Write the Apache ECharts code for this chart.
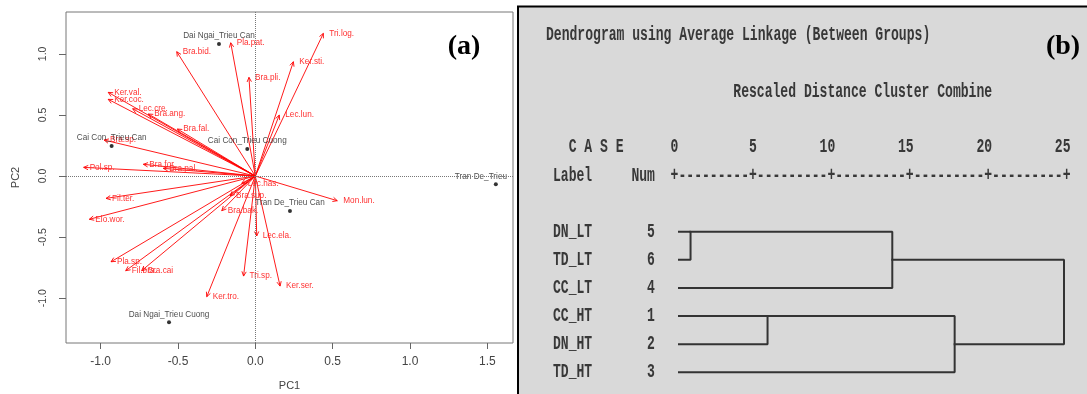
<!DOCTYPE html>
<html>
<head>
<meta charset="utf-8">
<script src="https://cdn.jsdelivr.net/npm/echarts@6/dist/echarts.min.js"></script>
<style>
  html, body { margin: 0; padding: 0; background: #fff; }
  #chart { width: 1087px; height: 394px; }
</style>
</head>
<body>
<div id="chart"></div>
<script>
// (a) PCA biplot - species loadings (arrows)
const speciesNames = ['Bra.bid.', 'Pla.pat.', 'Bra.pli.', 'Tri.log.', 'Ker.sti.', 'Lec.lun.',
  'Ker.val.', 'Ker.coc.', 'Lec.cre.', 'Bra.ang.', 'Bra.fal.', 'Bra.sp.', 'Pol.sp.', 'Bra.for.',
  'Bra.pal.', 'Fil.ter.', 'Elo.wor.', 'Pla.sp.', 'Fil.bra.', 'Bra.cai', 'Ker.tro.', 'Tri.sp.',
  'Lec.ela.', 'Ker.ser.', 'Mon.lun.', 'Bra.bak.', 'Bra.sup.', 'Lec.has.']
const loadPC1 = [-0.508, -0.159, -0.041, 0.440, 0.246, 0.155,
  -0.951, -0.951, -0.793, -0.692, -0.504, -0.978, -1.110, -0.724,
  -0.595, -0.965, -1.073, -0.933, -0.838, -0.735, -0.314, -0.076,
  0.009, 0.160, 0.530, -0.217, -0.164, -0.088]
const loadPC2 = [1.018, 1.091, 0.808, 1.168, 0.936, 0.499,
  0.685, 0.628, 0.551, 0.508, 0.385, 0.295, 0.071, 0.096,
  0.063, -0.183, -0.354, -0.702, -0.775, -0.775, -0.988, -0.819,
  -0.491, -0.901, -0.202, -0.284, -0.161, -0.060]

// site scores (points)
const siteNames = ['Dai Ngai_Trieu Can', 'Cai Con_Trieu Cuong', 'Cai Con_Trieu Can',
  'Tran De_Trieu Can', 'Dai Ngai_Trieu Cuong', 'Tran De_Trieu Cuong']
const sitePC1 = [-0.235, -0.052, -0.929, 0.224, -0.558, 1.555]
const sitePC2 = [1.081, 0.221, 0.246, -0.287, -1.198, -0.068]

const pc1Ticks = [-1, -0.5, 0, 0.5, 1, 1.5]
const pc2Ticks = [-1, -0.5, 0, 0.5, 1]

// (b) dendrogram - rows top to bottom
const caseLabels = ['DN_LT', 'TD_LT', 'CC_LT', 'CC_HT', 'DN_HT', 'TD_HT']
const caseNums = [5, 6, 4, 1, 2, 3]
// merges: nodes 0-5 are rows, each merge creates node 6, 7, ...
const mergeLeft = [0, 6, 3, 8, 7]
const mergeRight = [1, 2, 4, 5, 9]
const mergeDist = [0.75, 13.85, 5.75, 17.9, 25]
const distTicks = [0, 5, 10, 15, 20, 25]

const chart = echarts.init(document.getElementById('chart'))

const sansFont = 'Liberation Sans'
const monoFont = 'Liberation Mono'

// build dendrogram brackets from the merge table
const nodeRow = caseLabels.map((_, i) => i)
const nodeDist = caseLabels.map(() => 0)
const dendroSeries = mergeDist.map((d, k) => {
  const a = mergeLeft[k]
  const b = mergeRight[k]
  const ra = nodeRow[a]
  const rb = nodeRow[b]
  const seg = [[nodeDist[a], ra], [d, ra], [d, rb], [nodeDist[b], rb]]
  nodeRow.push(Math.floor((ra + rb) / 2))
  nodeDist.push(d)
  return {
    type: 'line',
    xAxisIndex: 1,
    yAxisIndex: 1,
    data: seg,
    symbol: 'none',
    silent: true,
    lineStyle: { color: '#333', width: 2, cap: 'square' }
  }
})

const siteData = sitePC1.map((x, i) => {
  const item = { value: [x, sitePC2[i]] }
  if (i === 5) {
    // the label of this site runs past the plot box and is cut off there
    item.label = { align: 'left', offset: [-41, 0], width: 58, overflow: 'truncate', ellipsis: '' }
  }
  return item
})

const option = {
  animation: false,
  grid: [
    { left: 66, top: 12, width: 447, height: 331, show: true, borderColor: '#777', borderWidth: 1, outerBoundsMode: 'none' },
    { left: 679, top: 217.6, width: 385, height: 168.7, outerBoundsMode: 'none' }
  ],
  xAxis: [
    {
      type: 'value', gridIndex: 0, min: -1.224, max: 1.666,
      name: 'PC1', nameLocation: 'middle', nameGap: 37,
      nameTextStyle: { fontSize: 11, color: '#444', fontFamily: sansFont },
      axisLine: { show: false, onZero: false },
      splitLine: { show: false },
      axisTick: { show: true, customValues: pc1Ticks, length: 6, lineStyle: { color: '#666' } },
      axisLabel: { customValues: pc1Ticks, formatter: v => v.toFixed(1), fontSize: 12, color: '#444', margin: 13, fontFamily: sansFont }
    },
    { type: 'value', gridIndex: 1, min: 0, max: 25, show: false }
  ],
  yAxis: [
    {
      type: 'value', gridIndex: 0, min: -1.367, max: 1.343,
      name: 'PC2', nameLocation: 'middle', nameGap: 45,
      nameTextStyle: { fontSize: 11, color: '#444', fontFamily: sansFont },
      axisLine: { show: false, onZero: false },
      splitLine: { show: false },
      axisTick: { show: true, customValues: pc2Ticks, length: 7, lineStyle: { color: '#666' } },
      axisLabel: { customValues: pc2Ticks, formatter: v => v.toFixed(1), rotate: 90, fontSize: 10.5, color: '#444', margin: 17, fontFamily: sansFont }
    },
    { type: 'value', gridIndex: 1, min: -0.5, max: 5.5, inverse: true, show: false }
  ],
  series: [
    {
      type: 'scatter',
      xAxisIndex: 0,
      yAxisIndex: 0,
      data: siteData,
      symbolSize: 4,
      itemStyle: { color: '#000' },
      label: {
        show: true, position: 'top', distance: 2,
        formatter: p => siteNames[p.dataIndex],
        fontSize: 8.2, color: '#222', fontFamily: sansFont
      },
      markLine: {
        silent: true, symbol: 'none', label: { show: false },
        lineStyle: { type: 'dotted', color: '#777', width: 1 },
        data: [{ xAxis: 0 }, { yAxis: 0 }]
      }
    },
    {
      type: 'custom',
      xAxisIndex: 0,
      yAxisIndex: 0,
      data: loadPC1.map((x, i) => [x, loadPC2[i]]),
      renderItem: (params, api) => {
        const o = api.coord([0, 0])
        const t = api.coord([api.value(0), api.value(1)])
        const ang = Math.atan2(t[1] - o[1], t[0] - o[0])
        const len = 5
        const spread = Math.PI / 7
        const p1 = [t[0] - len * Math.cos(ang - spread), t[1] - len * Math.sin(ang - spread)]
        const p2 = [t[0] - len * Math.cos(ang + spread), t[1] - len * Math.sin(ang + spread)]
        return {
          type: 'group',
          children: [
            { type: 'line', shape: { x1: o[0], y1: o[1], x2: t[0], y2: t[1] }, style: { stroke: '#ff0000', lineWidth: 0.9 } },
            { type: 'polyline', shape: { points: [p1, t, p2] }, style: { stroke: '#ff0000', fill: null, lineWidth: 0.9 } },
            {
              type: 'text', x: t[0] + 6, y: t[1],
              style: { text: speciesNames[params.dataIndex], fill: '#ff3030', fontSize: 8.2, fontFamily: sansFont, align: 'left', verticalAlign: 'middle' }
            }
          ]
        }
      }
    },
    ...dendroSeries
  ]
}

chart.setOption(option)

// text for panel (b), laid out in monospace columns like the SPSS output
const colW = 7.84
const col0 = 553
function monoText(str, x, y) {
  return {
    type: 'text', x: x, y: y, scaleX: colW / 12, z: 10,
    style: { text: str, fill: '#383838', fontFamily: monoFont, fontWeight: 'bold', fontSize: 20, align: 'left', verticalAlign: 'middle' }
  }
}

// tick numbers right-aligned on the '+' marks: column 15 + 2 * distance
let tickLine = '  C A S E'
let ruleLine = 'Label     Num  '
distTicks.forEach((t, i) => {
  const s = String(t)
  const endCol = 15 + 2 * t
  tickLine = tickLine.padEnd(endCol + 1 - s.length) + s
  ruleLine += (i === 0 ? '+' : '-'.repeat(9) + '+')
})

const graphics = [
  { type: 'rect', z: -1, shape: { x: 518, y: 6.5, width: 600, height: 420 }, style: { fill: '#d9d9d9', stroke: '#000', lineWidth: 2 } },
  { type: 'text', x: 464, y: 47, z: 10, style: { text: '(a)', fontFamily: 'Liberation Serif', fontWeight: 'bold', fontSize: 28, fill: '#000', align: 'center', verticalAlign: 'middle' } },
  { type: 'text', x: 1063, y: 47, z: 10, style: { text: '(b)', fontFamily: 'Liberation Serif', fontWeight: 'bold', fontSize: 28, fill: '#000', align: 'center', verticalAlign: 'middle' } },
  monoText('Dendrogram using Average Linkage (Between Groups)', 546, 35),
  monoText('Rescaled Distance Cluster Combine', col0 + 23 * colW, 92),
  monoText(tickLine, col0, 147),
  monoText(ruleLine, col0, 176)
]
caseLabels.forEach((lab, i) => {
  const y = chart.convertToPixel({ xAxisIndex: 1, yAxisIndex: 1 }, [0, i])[1]
  graphics.push(monoText(lab.padEnd(12) + caseNums[i], col0, y))
})

chart.setOption({ graphic: graphics })
</script>
</body>
</html>
